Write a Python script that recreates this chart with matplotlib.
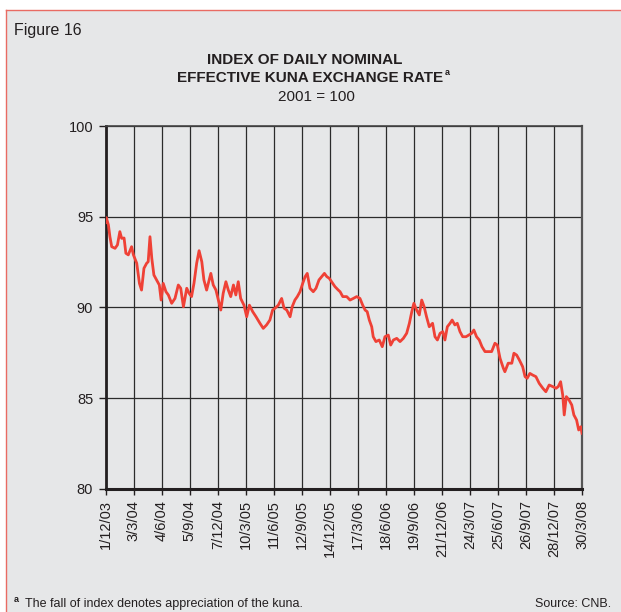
import matplotlib
matplotlib.use("Agg")
import matplotlib.pyplot as plt
from matplotlib.lines import Line2D
from matplotlib.patches import Rectangle
import pandas as pd

plt.rcParams['font.family'] = ['Liberation Sans', 'DejaVu Sans']

# data: days since 1/12/03 and index value (2001 = 100)
days = [0, 2, 9, 14, 20, 31, 39, 47, 53, 61, 67, 75, 86, 92, 103, 112, 119, 127,
        136, 141, 147, 153, 160, 169, 178, 184, 191, 200, 208, 219, 230, 241, 249,
        258, 269, 277, 285, 293, 302, 310, 319, 326, 335, 349, 357, 366, 374, 382,
        390, 399, 407, 415, 424, 432, 440, 448, 459, 468, 477, 488, 499, 512, 523,
        534, 545, 554, 562, 573, 584, 592, 601, 612, 619, 628, 636, 645, 654, 662,
        669, 678, 689, 698, 708, 717, 726, 734, 742, 750, 761, 772, 778, 787, 800,
        811, 822, 833, 844, 853, 861, 868, 875, 883, 888, 897, 908, 918, 927, 938,
        946, 955, 966, 977, 988, 999, 1008, 1016, 1023, 1032, 1041, 1049, 1057,
        1065, 1074, 1085, 1093, 1101, 1110, 1119, 1126, 1134, 1143, 1150, 1159,
        1167, 1176, 1185, 1196, 1205, 1215, 1222, 1231, 1240, 1249, 1259, 1270,
        1281, 1292, 1300, 1309, 1320, 1325, 1336, 1348, 1355, 1364, 1373, 1384,
        1392, 1399, 1408, 1417, 1428, 1439, 1451, 1461, 1472, 1484, 1495, 1502,
        1510, 1517, 1522, 1529, 1538, 1547, 1554, 1563, 1570, 1577, 1581]
index = [94.70, 94.95, 94.55, 93.90, 93.35, 93.26, 93.45, 94.18, 93.81, 93.83,
         92.99, 92.90, 93.35, 92.90, 92.44, 91.33, 90.96, 92.16, 92.44, 92.52,
         93.90, 92.71, 91.79, 91.52, 91.24, 90.41, 91.33, 90.87, 90.69, 90.23,
         90.50, 91.24, 91.06, 90.04, 91.06, 90.78, 90.60, 91.33, 92.44, 93.13,
         92.52, 91.52, 90.96, 91.88, 91.24, 90.96, 90.41, 89.86, 90.78, 91.42,
         90.96, 90.60, 91.24, 90.69, 91.42, 90.50, 90.13, 89.49, 90.13, 89.77,
         89.49, 89.13, 88.85, 89.04, 89.31, 89.86, 89.96, 90.13, 90.50, 89.96,
         89.86, 89.49, 90.04, 90.41, 90.60, 90.87, 91.33, 91.70, 91.88, 91.06,
         90.87, 91.06, 91.52, 91.70, 91.88, 91.70, 91.61, 91.42, 91.15, 90.96,
         90.87, 90.60, 90.60, 90.41, 90.50, 90.60, 90.50, 90.13, 89.86, 89.77,
         89.31, 88.94, 88.39, 88.12, 88.21, 87.84, 88.39, 88.48, 87.93, 88.21,
         88.30, 88.12, 88.30, 88.58, 89.13, 89.77, 90.23, 89.86, 89.59, 90.41,
         90.04, 89.49, 88.94, 89.13, 88.39, 88.21, 88.58, 88.67, 88.21, 88.94,
         89.13, 89.31, 89.04, 89.13, 88.67, 88.39, 88.39, 88.48, 88.58, 88.76,
         88.39, 88.21, 87.84, 87.57, 87.57, 87.57, 88.03, 87.93, 87.20, 86.65,
         86.46, 86.93, 86.93, 87.48, 87.38, 87.11, 86.74, 86.19, 86.10, 86.37,
         86.28, 86.19, 85.82, 85.55, 85.36, 85.73, 85.64, 85.55, 85.64, 85.91,
         85.18, 84.08, 85.09, 84.90, 84.63, 84.08, 83.80, 83.25, 83.43, 83.07]

tick_dates = ['2003-12-01', '2004-03-03', '2004-06-04', '2004-09-05', '2004-12-07',
              '2005-03-10', '2005-06-11', '2005-09-12', '2005-12-14', '2006-03-17',
              '2006-06-18', '2006-09-19', '2006-12-21', '2007-03-24', '2007-06-25',
              '2007-09-26', '2007-12-28', '2008-03-30']
tick_labels = ['1/12/03', '3/3/04', '4/6/04', '5/9/04', '7/12/04', '10/3/05',
               '11/6/05', '12/9/05', '14/12/05', '17/3/06', '18/6/06', '19/9/06',
               '21/12/06', '24/3/07', '25/6/07', '26/9/07', '28/12/07', '30/3/08']
y_ticks = [80, 85, 90, 95, 100]

bg = '#E6E7E8'
start = pd.Timestamp('2003-12-01')
dates = start + pd.to_timedelta(days, unit='D')
ticks = pd.to_datetime(tick_dates)

fig = plt.figure(figsize=(6.21, 6.12), dpi=100, facecolor='white')

# grey panel with red edge on top and left
fig.patches.append(Rectangle((6 / 621, 0), 1, 1 - 10 / 612, transform=fig.transFigure,
                             facecolor=bg, edgecolor='none', zorder=-5))
fig.lines.append(Line2D([5.5 / 621, 1], [1 - 9.5 / 612] * 2, transform=fig.transFigure,
                        color='#E96B63', lw=1.0, zorder=-4))
fig.lines.append(Line2D([5.5 / 621] * 2, [0, 1 - 9.5 / 612], transform=fig.transFigure,
                        color='#E96B63', lw=1.0, zorder=-4))

ax = fig.add_axes([0.1702, 0.2010, 0.7670, 0.5931])
ax.set_facecolor(bg)
ax.plot(dates, index, color='#EF4136', lw=2.0, zorder=3)

ax.set_xlim(ticks[0], ticks[-1])
ax.set_ylim(80, 100)
ax.set_xticks(ticks)
ax.set_xticklabels(tick_labels, rotation=90, fontsize=10.5, color='#231F20')
ax.set_yticks(y_ticks)
ax.set_yticklabels([str(v) for v in y_ticks], fontsize=10.5, color='#231F20')
ax.tick_params(axis='y', length=5, width=1, color='#231F20', pad=4)
ax.tick_params(axis='x', length=4, width=1, color='#231F20', pad=4)

ax.grid(True, color='#2B2B2B', lw=0.9)
ax.set_axisbelow(True)
ax.spines['bottom'].set_linewidth(2.2)
ax.spines['left'].set_linewidth(2.0)
ax.spines['bottom'].set_color('#231F20')
ax.spines['left'].set_color('#231F20')
ax.spines['top'].set_linewidth(1.2)
ax.spines['top'].set_color('#444444')
ax.spines['right'].set_linewidth(1.6)
ax.spines['right'].set_color('#555555')

# texts
fig.text(14 / 621, 1 - 30 / 612, 'Figure 16', fontsize=11.5, va='center', color='#231F20')
fig.text(0.49, 1 - 60 / 612, 'INDEX OF DAILY NOMINAL', fontsize=11, fontweight='bold',
         ha='center', va='center', color='#231F20')
t2 = fig.text(0.50, 1 - 78 / 612, 'EFFECTIVE KUNA EXCHANGE RATE', fontsize=11,
              fontweight='bold', ha='center', va='center', color='#231F20')
fig.text(0.51, 1 - 97 / 612, '2001 = 100', fontsize=11, ha='center', va='center',
         color='#231F20')

fig.canvas.draw()
bb = t2.get_window_extent().transformed(fig.transFigure.inverted())
fig.text(bb.x1 + 0.002, bb.y1 - 0.002, 'a', fontsize=6.5, fontweight='bold',
         va='center', color='#231F20')

fig.text(14 / 621, 1 - 600 / 612, 'a', fontsize=6.5, fontweight='bold', va='center',
         color='#231F20')
fig.text(25 / 621, 1 - 604 / 612, 'The fall of index denotes appreciation of the kuna.',
         fontsize=9, va='center', color='#231F20')
fig.text(611 / 621, 1 - 604 / 612, 'Source: CNB.', fontsize=9, ha='right', va='center',
         color='#231F20')

fig.savefig('out.png', dpi=100, facecolor='white')
